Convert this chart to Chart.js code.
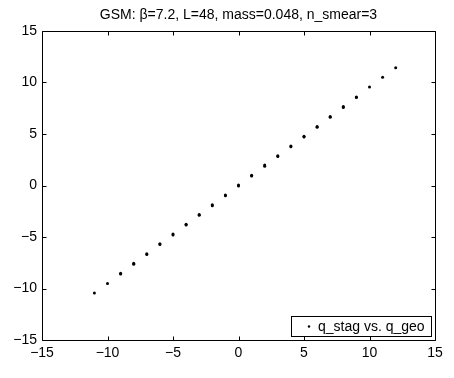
<!DOCTYPE html>
<html>
<head>
<meta charset="utf-8">
<script src="https://cdn.jsdelivr.net/npm/chart.js@4.4.0/dist/chart.umd.min.js"></script>
<style>
html,body{margin:0;padding:0;background:#fff;}
#wrap{width:454px;height:378px;}
</style>
</head>
<body>
<div id="wrap"><canvas id="c" width="454" height="378"></canvas></div>
<script>
const titleText = "GSM: \u03b2=7.2, L=48, mass=0.048, n_smear=3";
const seriesLabel = "q_stag vs. q_geo";
const qGeo = [-11,-10,-9,-9,-8,-8,-7,-7,-6,-6,-5,-5,-4,-4,-3,-3,-2,-2,-1,-1,0,0,1,1,2,2,3,3,4,4,5,5,6,6,7,7,8,8,9,9,10,11,12];
const qStag = [-10.44,-9.52,-8.60,-8.52,-7.64,-7.56,-6.70,-6.62,-5.74,-5.66,-4.80,-4.72,-3.84,-3.76,-2.90,-2.82,-1.96,-1.86,-1.00,-0.92,-0.04,0.04,0.92,1.00,1.86,1.98,2.82,2.90,3.76,3.84,4.70,4.78,5.66,5.74,6.62,6.70,7.58,7.66,8.54,8.60,9.56,10.50,11.44];
const xTicks = [-15,-10,-5,0,5,10,15];
const yTicks = [-15,-10,-5,0,5,10,15];

const points = qGeo.map((x,i)=>({x:x,y:qStag[i]}));
const FONT = "'Liberation Sans', Arial, Helvetica, sans-serif";

const framePlugin = {
  id:'frame',
  afterDatasetsDraw(chart){
    const ctx = chart.ctx, a = chart.chartArea;
    const xs = chart.scales.x, ys = chart.scales.y;
    const L = Math.round(a.left)+0.5, R = Math.round(a.right)+0.5, T = Math.round(a.top)+0.5, B = Math.round(a.bottom)+0.5;
    ctx.save();
    ctx.strokeStyle = '#000';
    ctx.lineWidth = 1;
    ctx.beginPath();
    ctx.rect(L, T, R-L, B-T);
    ctx.stroke();
    const tl = 4;
    ctx.beginPath();
    xTicks.forEach(v=>{
      const px = Math.round(xs.getPixelForValue(v))+0.5;
      ctx.moveTo(px,B); ctx.lineTo(px,B-tl);
      ctx.moveTo(px,T); ctx.lineTo(px,T+tl);
    });
    yTicks.forEach(v=>{
      const py = Math.round(ys.getPixelForValue(v))+0.5;
      ctx.moveTo(L,py); ctx.lineTo(L+tl,py);
      ctx.moveTo(R,py); ctx.lineTo(R-tl,py);
    });
    ctx.stroke();
    // legend box inside bottom-right
    const bx = 291.5, by = 316.5, bw = 140, bh = 20;
    ctx.fillStyle = '#fff';
    ctx.fillRect(bx, by, bw, bh);
    ctx.strokeRect(bx, by, bw, bh);
    ctx.fillStyle = '#000';
    ctx.beginPath();
    ctx.arc(309, 326.5, 1.2, 0, Math.PI*2);
    ctx.fill();
    ctx.font = '14px ' + FONT;
    ctx.textBaseline = 'middle';
    ctx.textAlign = 'left';
    ctx.fillText(chart.data.datasets[0].label, 318, 327);
    ctx.restore();
  }
};

new Chart(document.getElementById('c'), {
  type:'scatter',
  data:{datasets:[{label:seriesLabel, data:points, backgroundColor:'#000', borderColor:'#000', pointRadius:1.5, pointHoverRadius:1.5, borderWidth:0}]},
  options:{
    responsive:false,
    animation:false,
    events:[],
    layout:{padding:{left:0,right:19,top:0,bottom:0}},
    plugins:{
      legend:{display:false},
      tooltip:{enabled:false},
      title:{display:true, text:titleText, fullSize:false, color:'#000',
        font:{family:FONT, size:14, weight:'normal', lineHeight:1.2},
        padding:{top:7,bottom:7.2}}
    },
    scales:{
      x:{type:'linear', min:-15, max:15,
        afterBuildTicks(s){ s.ticks = xTicks.map(v=>({value:v})); },
        afterFit(s){ s.height = 38; },
        grid:{display:false, drawTicks:false},
        border:{display:false},
        ticks:{color:'#000', padding:5, maxRotation:0, autoSkip:false, font:{family:FONT,size:14},
          callback:v=> (v<0? '\u2212'+Math.abs(v) : ''+v)}
      },
      y:{type:'linear', min:-15, max:15,
        afterBuildTicks(s){ s.ticks = yTicks.map(v=>({value:v})); },
        afterFit(s){ s.width = 42; },
        grid:{display:false, drawTicks:false},
        border:{display:false},
        ticks:{color:'#000', padding:5, autoSkip:false, font:{family:FONT,size:14},
          callback:v=> (v<0? '\u2212'+Math.abs(v) : ''+v)}
      }
    }
  },
  plugins:[framePlugin]
});
</script>
</body>
</html>
